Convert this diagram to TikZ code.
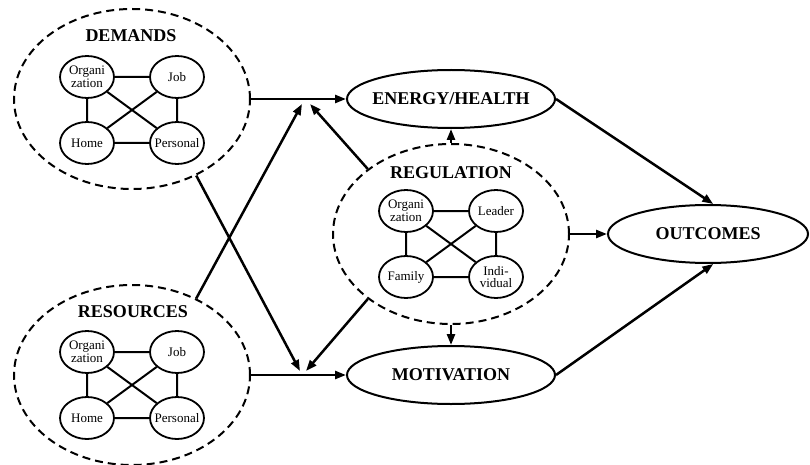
\documentclass[tikz,border=0pt]{standalone}
\usepackage{fontspec}
\setmainfont{Liberation Serif}
\usetikzlibrary{arrows.meta, positioning, calc, shapes.geometric}

% four linked circles round a centre: #1 prefix, #2 centre, #3-#6 texts
\newcommand{\netbox}[6]{%
  \node[minor, label={[minortext]center:#3}] (#1a) at ($(#2)+(-45,-33)$) {};
  \node[minor, label={[minortext]center:#4}] (#1b) at ($(#2)+(45,-33)$) {};
  \node[minor, label={[minortext]center:#5}] (#1c) at ($(#2)+(-45,33)$) {};
  \node[minor, label={[minortext]center:#6}] (#1d) at ($(#2)+(45,33)$) {};
  \draw[link] (#1a) -- (#1b) (#1c) -- (#1d) (#1a) -- (#1c) (#1b) -- (#1d)
              (#1a) -- (#1d) (#1b) -- (#1c);
}

\begin{document}
\begin{tikzpicture}[x=1pt, y=-1pt,
  dashring/.style={ellipse, draw, line width=2pt, dash pattern=on 8pt off 5pt,
    minimum width=236pt, minimum height=180pt, inner sep=0pt},
  factor/.style={ellipse, draw, line width=2pt, minimum width=208pt, minimum height=58pt,
    inner xsep=-35pt, inner ysep=0pt, font=\fontsize{18}{20}\selectfont\bfseries},
  title/.style={font=\fontsize{18}{20}\selectfont\bfseries, inner sep=0pt},
  minor/.style={ellipse, draw, line width=1.8pt, minimum width=54pt, minimum height=42pt, inner sep=0pt},
  minortext/.style={font=\fontsize{13}{12.5}\selectfont, align=center, inner sep=0pt},
  link/.style={line width=2pt},
  arr/.style={line width=2.5pt, -{Triangle[length=11pt, width=8pt]}}]
  \useasboundingbox (0,0) rectangle (810,465);

  % left groups
  \node[dashring] (dem) at (132,99) {};
  \node[title] (demt) at (131,36) {DEMANDS};
  \netbox{d}{132,110}{Organi\\zation}{Job}{Home}{Personal}

  \node[dashring] (res) at (132,375) {};
  \node[title] (rest) at (133,312) {RESOURCES};
  \netbox{r}{132,385}{Organi\\zation}{Job}{Home}{Personal}

  % middle group
  \node[dashring] (reg) at (451,234) {};
  \node[title] (regt) at (451,173) {REGULATION};
  \netbox{g}{451,244}{Organi\\zation}{Leader}{Family}{Indi-\\vidual}

  % outcomes side
  \node[factor] (en) at (451,99) {ENERGY/HEALTH};
  \node[factor] (mot) at (451,375) {MOTIVATION};
  \node[factor, minimum width=200pt] (out) at (708,234) {OUTCOMES};

  \coordinate (je1) at (302,104);
  \coordinate (je2) at (310,104);
  \coordinate (jm1) at (300,371);
  \coordinate (jm2) at (306,371);

  \draw[arr] (dem.east) -- (en.west);
  \draw[arr] (res.east) -- (mot.west);
  \draw[arr] (dem.-50) -- (jm1);
  \draw[arr] (res.50) -- (je1);
  \draw[arr] (reg.142) -- (je2);
  \draw[arr] (reg.-142) -- (jm2);
  \draw[arr] (reg.north) -- (en.south);
  \draw[arr] (reg.south) -- (mot.north);
  \draw[arr] (reg.east) -- (out.west);
  \draw[arr] (en.east) -- (out.80);
  \draw[arr] (mot.east) -- (out.-80);
\end{tikzpicture}
\end{document}
